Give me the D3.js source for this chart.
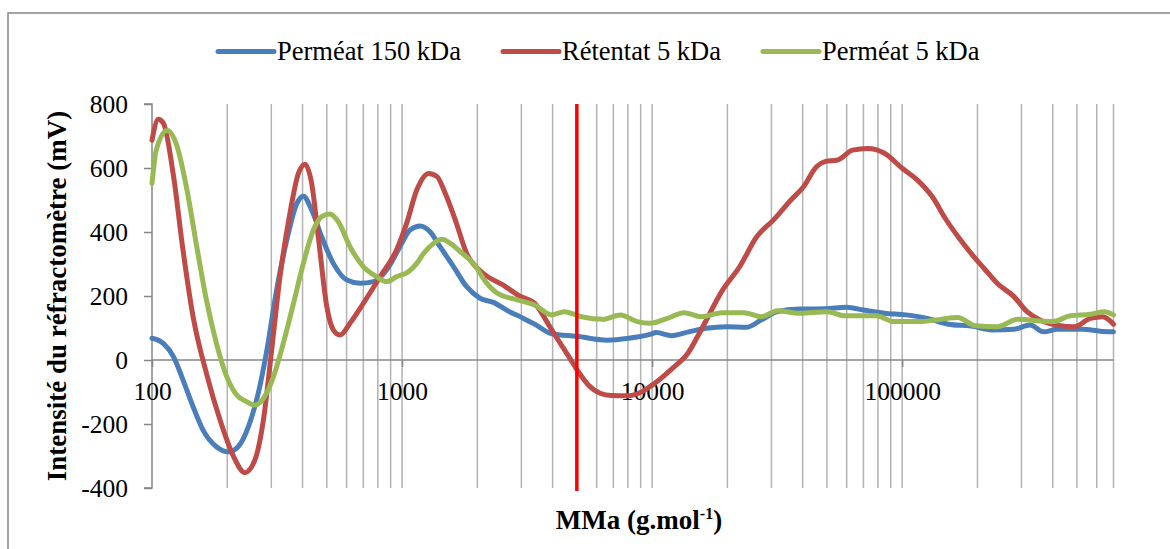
<!DOCTYPE html>
<html>
<head>
<meta charset="utf-8">
<script src="https://cdn.jsdelivr.net/npm/d3@7"></script>
<style>
  html, body { margin: 0; padding: 0; background: #ffffff; }
  svg { display: block; }
  text { font-family: "Liberation Serif", "Times New Roman", serif; fill: #000; }
</style>
</head>
<body>
<svg id="chart" width="1170" height="549"></svg>
<script>
// ---------- data ----------
const seriesNames = ["Perméat 150 kDa", "Rétentat 5 kDa", "Perméat 5 kDa"];
const seriesColors = ["#4a7ebb", "#be4b48", "#98b954"];

const permeat150_M = [100, 111, 122, 133, 146, 160, 181, 202, 221, 243, 266, 288, 315, 346, 380, 403, 435, 477, 531, 602, 679, 769, 867, 981, 1075, 1180, 1294, 1419, 1606, 1813, 2050, 2320, 2630, 3060, 3390, 3970, 5000, 6600, 8070, 9800, 10400, 11960, 14000, 16400, 19900, 23800, 27300, 31800, 38700, 49000, 60000, 70000, 85000, 103700, 126000, 153000, 188600, 229000, 280000, 325000, 368000, 417000, 525000, 620000, 700000];
const permeat150_I = [68, 52, 10, -62, -146, -219, -271, -287, -271, -208, -104, 31, 219, 375, 490, 512, 469, 385, 302, 250, 240, 245, 281, 354, 406, 419, 401, 354, 292, 229, 193, 180, 155, 130, 112, 82, 74, 62, 68, 80, 86, 76, 88, 99, 104, 102, 125, 151, 159, 160, 165, 156, 146, 141, 130, 112, 106, 94, 96, 109, 88, 96, 96, 90, 88];

const retentat5_M = [100, 106, 111, 122, 133, 146, 165, 187, 212, 235, 258, 279, 301, 325, 356, 385, 409, 435, 464, 500, 531, 565, 619, 700, 817, 950, 1043, 1145, 1278, 1380, 1488, 1632, 1813, 2110, 2540, 2950, 3390, 3970, 4650, 5060, 5560, 6200, 6870, 7900, 9100, 10430, 12050, 13900, 15700, 19150, 22400, 26200, 30600, 35900, 40400, 45400, 49100, 55200, 63300, 72700, 85000, 100000, 114800, 132000, 148600, 167400, 188600, 212700, 239700, 280000, 315700, 355900, 416800, 488000, 565000, 634000, 700000];
const retentat5_I = [687, 752, 740, 573, 344, 135, -41, -187, -302, -352, -312, -187, 31, 260, 458, 583, 612, 552, 375, 167, 94, 78, 115, 177, 260, 344, 427, 531, 583, 573, 521, 438, 333, 271, 234, 200, 177, 94, 10, -36, -78, -104, -111, -112, -99, -68, -26, 21, 94, 219, 292, 385, 438, 500, 542, 604, 620, 625, 656, 661, 646, 599, 563, 510, 443, 385, 333, 286, 240, 198, 151, 125, 109, 104, 130, 135, 112];

const permeat5_M = [100, 104, 115, 126, 138, 151, 165, 181, 199, 218, 239, 258, 279, 306, 335, 368, 403, 442, 477, 515, 556, 619, 700, 793, 867, 950, 1060, 1145, 1219, 1340, 1443, 1556, 1706, 1929, 2180, 2390, 2890, 3390, 3970, 4460, 5220, 6360, 7460, 8720, 9800, 11500, 13400, 15700, 19150, 23300, 27300, 31800, 38700, 50000, 59500, 78900, 92600, 117000, 136000, 167000, 196000, 240000, 290000, 356000, 400000, 470000, 565000, 645000, 700000];
const permeat5_I = [552, 656, 717, 667, 531, 354, 188, 52, -52, -109, -130, -141, -120, -52, 52, 177, 302, 406, 448, 456, 432, 354, 292, 260, 245, 260, 276, 302, 333, 365, 377, 365, 339, 302, 240, 210, 188, 172, 141, 151, 135, 127, 141, 120, 115, 130, 148, 135, 148, 148, 135, 154, 146, 151, 138, 138, 120, 120, 125, 133, 107, 104, 127, 122, 120, 138, 143, 151, 141];

const yTicks = [-400, -200, 0, 200, 400, 600, 800];
const xTickLabels = [100, 1000, 10000, 100000];
const cutoffMMa = 5000;
const xTitle = "MMa (g.mol";
const xTitleSup = "-1";
const yTitle = "Intensité du réfractomètre (mV)";

// ---------- layout ----------
const svg = d3.select("#chart");
const plotLeft = 152, plotRight = 1113.5, plotTop = 104, plotBottom = 488;

const x = d3.scaleLog().domain([100, 700000]).range([plotLeft, plotRight]);
const y = d3.scaleLinear().domain([-400, 800]).range([plotBottom, plotTop]);

// outer chart border
svg.append("rect")
  .attr("x", 8).attr("y", 13).attr("width", 1200).attr("height", 600)
  .attr("fill", "#fff").attr("stroke", "#868686").attr("stroke-width", 1.5);

// vertical gridlines at log minor values
const gridVals = [];
for (let d = 100; d <= 100000; d *= 10) {
  for (let k = 1; k <= 9; k++) {
    const v = d * k;
    if (v > 100 && v <= 700000) gridVals.push(v);
  }
}
svg.append("g").selectAll("line").data(gridVals).join("line")
  .attr("x1", d => x(d)).attr("x2", d => x(d))
  .attr("y1", plotTop).attr("y2", plotBottom)
  .attr("stroke", "#b3b3b3").attr("stroke-width", 1.5);

// Y axis
const yAxis = d3.axisLeft(y).tickValues(yTicks).tickSize(8).tickFormat(d => String(d));
const gy = svg.append("g").attr("transform", `translate(${plotLeft},0)`).call(yAxis);
gy.select(".domain").attr("stroke", "#868686").attr("stroke-width", 1.5).attr("d", `M-8,${plotTop}H0V${plotBottom}H-8`);
gy.selectAll(".tick line").attr("stroke", "#868686").attr("stroke-width", 1.5);
gy.selectAll(".tick text")
  .attr("x", -24).attr("dy", null).attr("y", 8.5)
  .style("font-family", '"Liberation Serif", serif').style("font-size", "25.5px").attr("fill", "#000");

// X axis at y = 0
const xAxis = d3.axisBottom(x).tickValues(xTickLabels).tickSize(7).tickFormat(d => String(d));
const gx = svg.append("g").attr("transform", `translate(0,${y(0)})`).call(xAxis);
gx.select(".domain").attr("stroke", "#868686").attr("stroke-width", 1.5).attr("d", `M${plotLeft},0H${plotRight}`);
gx.selectAll(".tick line").attr("stroke", "#868686").attr("stroke-width", 1.5);
gx.selectAll(".tick text")
  .attr("y", 40).attr("dy", null)
  .style("font-family", '"Liberation Serif", serif').style("font-size", "25.5px").attr("fill", "#000");

// series lines
const series = [
  { name: seriesNames[0], color: seriesColors[0], M: permeat150_M, I: permeat150_I },
  { name: seriesNames[1], color: seriesColors[1], M: retentat5_M, I: retentat5_I },
  { name: seriesNames[2], color: seriesColors[2], M: permeat5_M, I: permeat5_I }
];
const line = d3.line().x(d => x(d[0])).y(d => y(d[1])).curve(d3.curveMonotoneX);
svg.append("g").selectAll("path").data(series).join("path")
  .attr("d", s => line(s.M.map((m, i) => [m, s.I[i]])))
  .attr("fill", "none").attr("stroke", s => s.color)
  .attr("stroke-width", 5).attr("stroke-linejoin", "round").attr("stroke-linecap", "round");

// red cutoff line at 5 kDa
svg.append("line")
  .attr("x1", x(cutoffMMa)).attr("x2", x(cutoffMMa))
  .attr("y1", plotTop).attr("y2", 491)
  .attr("stroke", "#ff0000").attr("stroke-width", 3.5);

// legend
const legendX = [218, 503, 763];
const lg = svg.append("g").selectAll("g").data(series).join("g")
  .attr("transform", (d, i) => `translate(${legendX[i]},0)`);
lg.append("line").attr("x1", 0).attr("x2", 56).attr("y1", 51.5).attr("y2", 51.5)
  .attr("stroke", d => d.color).attr("stroke-width", 5).attr("stroke-linecap", "round");
lg.append("text").attr("x", 59).attr("y", 60).style("font-size", "26.5px").text(d => d.name);

// axis titles
svg.append("text")
  .attr("transform", `translate(66,296) rotate(-90)`)
  .attr("text-anchor", "middle")
  .style("font-size", "27px").style("font-weight", "bold")
  .text(yTitle);

const xt = svg.append("text")
  .attr("x", 639).attr("y", 529).attr("text-anchor", "middle")
  .style("font-size", "27px").style("font-weight", "bold");
xt.append("tspan").text(xTitle);
xt.append("tspan").attr("dy", -10).style("font-size", "16px").text(xTitleSup);
xt.append("tspan").attr("dy", 10).text(")");
</script>
</body>
</html>
